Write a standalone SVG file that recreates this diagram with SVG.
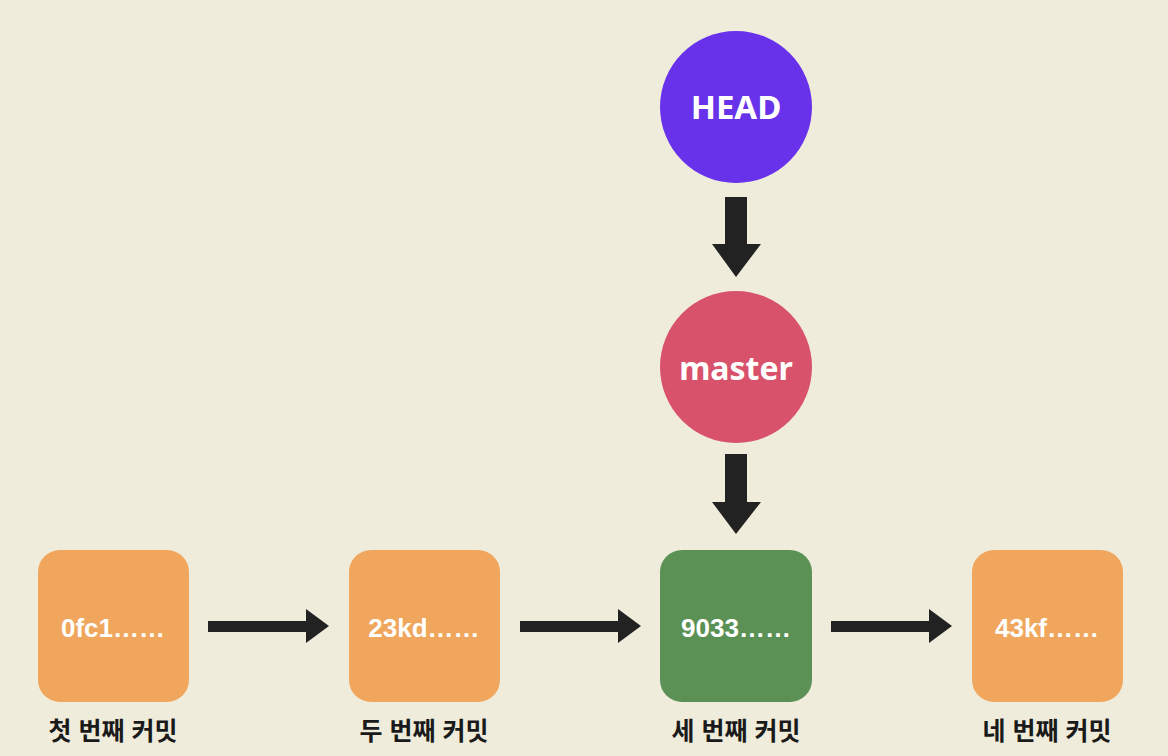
<svg xmlns="http://www.w3.org/2000/svg" width="1168" height="756" viewBox="0 0 1168 756">
<defs>
<style>
.bg{fill:#F0ECDB}
.circ-t{font-family:"Noto Sans","Liberation Sans",sans-serif;font-weight:700;fill:#fff;text-anchor:middle}
.box-t{font-family:"Liberation Sans","Noto Sans",sans-serif;font-weight:700;font-size:26px;fill:#fff;text-anchor:middle}
.lbl{font-family:"Liberation Sans","Noto Sans CJK KR",sans-serif;font-weight:700;font-size:25px;fill:#1a1a1a;text-anchor:middle}
.orange{fill:#F0A65C}
.green{fill:#5B9155}
.arr{fill:#222}
</style>
</defs>
<rect class="bg" x="0" y="0" width="1168" height="756"/>
<g id="head">
<circle cx="736" cy="107" r="76" fill="#6832EA"/>
<text class="circ-t" x="736" y="119" font-size="33">HEAD</text>
</g>
<g id="master">
<circle cx="736" cy="367" r="76" fill="#D9526C"/>
<text class="circ-t" x="736" y="380" font-size="32">master</text>
</g>
<g id="commit1">
<rect class="orange" x="38" y="550" width="151" height="152" rx="22"/>
<text class="box-t" x="113" y="637">0fc1……</text>
<text class="lbl" x="113" y="740">첫 번째 커밋</text>
</g>
<g id="commit2">
<rect class="orange" x="349" y="550" width="151" height="152" rx="22"/>
<text class="box-t" x="424" y="637">23kd……</text>
<text class="lbl" x="424" y="740">두 번째 커밋</text>
</g>
<g id="commit3">
<rect class="green" x="660" y="550" width="152" height="152" rx="22"/>
<text class="box-t" x="736" y="637">9033……</text>
<text class="lbl" x="736" y="740">세 번째 커밋</text>
</g>
<g id="commit4">
<rect class="orange" x="972" y="550" width="151" height="152" rx="22"/>
<text class="box-t" x="1047" y="637">43kf……</text>
<text class="lbl" x="1047" y="740">네 번째 커밋</text>
</g>
<g id="connectors">
<polygon class="arr" points="725,197 747,197 747,244 761,244 736,277 712,244 725,244"/>
<polygon class="arr" points="725,454 747,454 747,502 761,502 736,534 712,502 725,502"/>
<polygon class="arr" points="208,621 306,621 306,609 329,626 306,643 306,632 208,632"/>
<polygon class="arr" points="520,621 618,621 618,609 641,626 618,643 618,632 520,632"/>
<polygon class="arr" points="831,621 929,621 929,609 952,626 929,643 929,632 831,632"/>
</g>
</svg>
